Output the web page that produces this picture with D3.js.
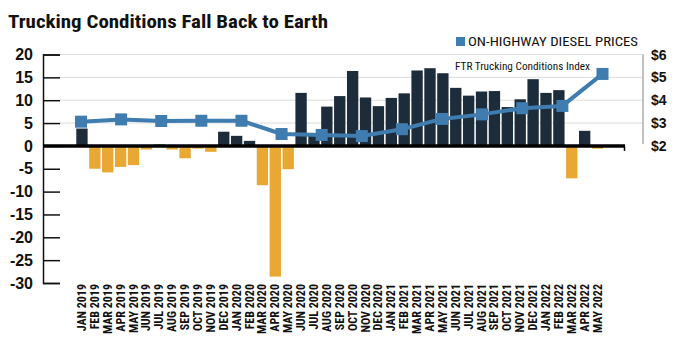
<!DOCTYPE html>
<html>
<head>
<meta charset="utf-8">
<script src="https://cdn.jsdelivr.net/npm/d3@7"></script>
<style>
  body { margin: 0; background: #fff; }
  svg text { font-family: "Liberation Sans Narrow", "Roboto Condensed", "DejaVu Sans Condensed", "Liberation Sans", sans-serif; }
</style>
</head>
<body>
<svg width="684" height="342"></svg>
<script>
// monthly FTR Trucking Conditions Index
const months = ["JAN 2019","FEB 2019","MAR 2019","APR 2019","MAY 2019","JUN 2019","JUL 2019","AUG 2019","SEP 2019","OCT 2019","NOV 2019","DEC 2019",
  "JAN 2020","FEB 2020","MAR 2020","APR 2020","MAY 2020","JUN 2020","JUL 2020","AUG 2020","SEP 2020","OCT 2020","NOV 2020","DEC 2020",
  "JAN 2021","FEB 2021","MAR 2021","APR 2021","MAY 2021","JUN 2021","JUL 2021","AUG 2021","SEP 2021","OCT 2021","NOV 2021","DEC 2021",
  "JAN 2022","FEB 2022","MAR 2022","APR 2022","MAY 2022"];
const tci = [3.8, -5.0, -5.8, -4.6, -4.2, -0.8, 0.3, -0.8, -2.7, -0.6, -1.3, 3.1,
  2.2, 1.1, -8.6, -28.6, -5.1, 11.6, 2.2, 8.6, 10.9, 16.4, 10.6, 8.7,
  10.5, 11.5, 16.5, 17.0, 15.9, 12.7, 11.0, 11.9, 12.0, 8.5, 10.2, 14.6,
  11.6, 12.2, -7.1, 3.3, -0.6];

// quarterly on-highway diesel price ($/gal)
const quarters = ["JAN 2019","APR 2019","JUL 2019","OCT 2019","JAN 2020","APR 2020","JUL 2020","OCT 2020",
  "JAN 2021","APR 2021","JUL 2021","OCT 2021","JAN 2022","APR 2022"];
const diesel = [3.06, 3.16, 3.09, 3.10, 3.10, 2.52, 2.48, 2.43, 2.73, 3.18, 3.38, 3.65, 3.75, 5.15];

const leftTicks = [20, 15, 10, 5, 0, -5, -10, -15, -20, -25, -30];
const rightTicks = [6, 5, 4, 3, 2];

const svg = d3.select("svg");
const dark = "#1d2c3a", orange = "#e9a833", blue = "#3f7cb0";

let x = d3.scaleBand().domain(months).range([75.5, 604]).paddingInner(0.12).paddingOuter(0.06);
let y = d3.scaleLinear().domain([-30, 20]).range([283, 54.5]);
let y2 = d3.scaleLinear().domain([2, 6]).range([y(0), y(20)]);
let xq = d3.scalePoint().domain(quarters).range([81, 602.5]);

// gridlines (positive side only)
svg.append("g")
  .selectAll("line")
  .data(leftTicks.filter(d => d > 0))
  .enter().append("line")
    .attr("x1", 60).attr("x2", 643)
    .attr("y1", d => y(d)).attr("y2", d => y(d))
    .attr("stroke", "#dcdcdc").attr("stroke-width", 1);

// left axis
let yAxis = svg.append("g")
  .attr("transform", "translate(43,0)")
  .call(d3.axisLeft(y).tickValues(leftTicks).tickSize(-17).tickPadding(10).tickFormat(d3.format("d")));
yAxis.selectAll("line, path").attr("stroke", "#111").attr("stroke-width", 1.5);
yAxis.selectAll("text")
  .attr("font-size", 16).attr("font-weight", "bold").attr("fill", "#111")
  .style("font-family", "'Liberation Sans', Arial, sans-serif")
  .text(d => d < 0 ? "-" + Math.abs(d) : d);

// right axis
svg.append("line")
  .attr("x1", 643).attr("x2", 643)
  .attr("y1", y(20)).attr("y2", y(0) - 2)
  .attr("stroke", "#999").attr("stroke-width", 1.2);
svg.append("g")
  .selectAll("text")
  .data(rightTicks)
  .enter().append("text")
    .attr("x", 651).attr("y", d => y2(d))
    .attr("dy", "0.36em")
    .attr("font-size", 14).attr("font-weight", "bold").attr("fill", "#111")
    .style("font-family", "'Liberation Sans', Arial, sans-serif")
    .text(d => "$" + d);

// bars
svg.append("g")
  .selectAll("rect")
  .data(tci)
  .enter().append("rect")
    .attr("x", (d, i) => x(months[i]))
    .attr("width", x.bandwidth())
    .attr("y", d => y(Math.max(0, d)))
    .attr("height", d => Math.abs(y(d) - y(0)))
    .attr("fill", d => d >= 0 ? dark : orange);

// zero line
svg.append("line")
  .attr("x1", 43).attr("x2", 625)
  .attr("y1", y(0)).attr("y2", y(0))
  .attr("stroke", "#000").attr("stroke-width", 3.5);
svg.append("line")
  .attr("x1", 624.5).attr("x2", 624.5)
  .attr("y1", y(0)).attr("y2", y(0) + 5)
  .attr("stroke", "#000").attr("stroke-width", 1.5);

// diesel line
let line = d3.line()
  .x((d, i) => xq(quarters[i]))
  .y(d => y2(d));
svg.append("path")
  .datum(diesel)
  .attr("fill", "none")
  .attr("stroke", blue)
  .attr("stroke-width", 4)
  .attr("stroke-linejoin", "round")
  .attr("d", line);
svg.append("g")
  .selectAll("rect")
  .data(diesel)
  .enter().append("rect")
    .attr("x", (d, i) => xq(quarters[i]) - 6)
    .attr("y", d => y2(d) - 6)
    .attr("width", 12).attr("height", 12)
    .attr("fill", blue);

// x labels
svg.append("g")
  .selectAll("text")
  .data(months)
  .enter().append("text")
    .attr("transform", d => `translate(${x(d) + x.bandwidth() / 2 + 4},284) rotate(-90)`)
    .attr("text-anchor", "end")
    .attr("font-size", 12).attr("font-weight", "bold").attr("fill", "#111")
    .text(d => d);

// fit text to a given width
function fit(sel, w) {
  sel.attr("textLength", w).attr("lengthAdjust", "spacingAndGlyphs");
}

// title
svg.append("text")
  .attr("x", 8).attr("y", 28)
  .attr("font-size", 19).attr("font-weight", "bold").attr("fill", "#111")
  .text("Trucking Conditions Fall Back to Earth")
  .call(fit, 320);

// legend
svg.append("rect")
  .attr("x", 456).attr("y", 37).attr("width", 9).attr("height", 9)
  .attr("fill", blue);
svg.append("text")
  .attr("x", 468).attr("y", 46)
  .attr("font-size", 12.5).attr("fill", "#111")
  .text("ON-HIGHWAY DIESEL PRICES")
  .call(fit, 170);
svg.append("text")
  .attr("x", 455).attr("y", 70)
  .attr("font-size", 10).attr("fill", "#111")
  .text("FTR Trucking Conditions Index")
  .call(fit, 135);
</script>
</body>
</html>
